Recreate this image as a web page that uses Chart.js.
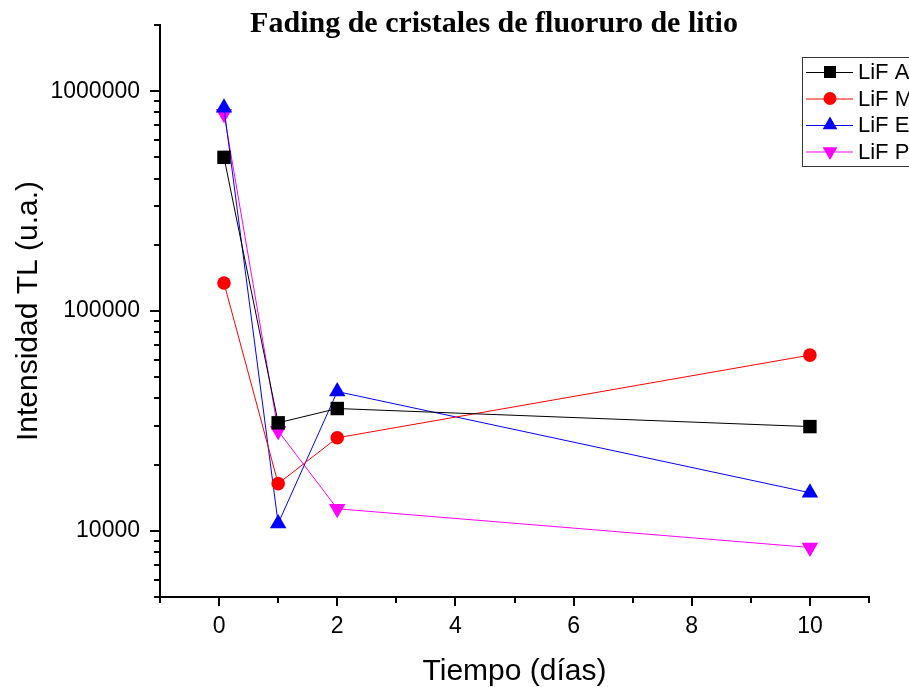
<!DOCTYPE html>
<html>
<head>
<meta charset="utf-8">
<script src="https://cdn.jsdelivr.net/npm/chart.js@4"></script>
<style>
  html,body{margin:0;padding:0;background:#fff;overflow:hidden}
  #wrap{width:909px;height:687px;position:relative}
</style>
</head>
<body>
<div id="wrap"><canvas id="c" width="909" height="687"></canvas></div>
<script>
// values
const days = [0.083, 1, 2, 10];
const lifA = [500000, 31000, 36000, 29800];
const lifM = [134000, 16400, 26500, 63000];
const lifE = [840000, 10800, 43000, 14900];
const lifP = [790000, 28500, 12600, 8400];
const seriesNames = ['LiF A', 'LiF M', 'LiF E', 'LiF P'];
const xTicks = [-1, 0, 1, 2, 3, 4, 5, 6, 7, 8, 9, 10, 11];
const yTicks = [5000, 6000, 7000, 8000, 9000,
  10000, 20000, 30000, 40000, 50000, 60000, 70000, 80000, 90000,
  100000, 200000, 300000, 400000, 500000, 600000, 700000, 800000, 900000,
  1000000, 2000000];

const pts = arr => days.map((d, i) => ({x: d, y: arr[i]}));
const styles = [
  {color: '#000000', pointStyle: 'rect', r: 9.5, lr: 8.5, rot: 0},
  {color: '#ff0000', pointStyle: 'circle', r: 6.8, lr: 6.5, rot: 0},
  {color: '#0000ff', pointStyle: 'triangle', r: 9.5, lr: 8.5, rot: 0},
  {color: '#ff00ff', pointStyle: 'triangle', r: 9.5, lr: 8.5, rot: 180}
];
const data = [lifA, lifM, lifE, lifP];

const isPow10 = v => Math.abs(Math.log10(v) - Math.round(Math.log10(v))) < 1e-9;

const axisDeco = {
  id: 'axisDeco',
  afterDraw(chart) {
    const ctx = chart.ctx, xs = chart.scales.x, ys = chart.scales.y;
    const a = chart.chartArea;
    ctx.save();
    ctx.strokeStyle = '#000';
    ctx.lineWidth = 2;
    ctx.beginPath();
    ys.ticks.forEach(t => {
      const y = Math.round(ys.getPixelForValue(t.value));
      const len = isPow10(t.value) ? 10 : 6;
      ctx.moveTo(a.left, y); ctx.lineTo(a.left - len, y);
    });
    xs.ticks.forEach(t => {
      const x = Math.round(xs.getPixelForValue(t.value));
      const len = t.value % 2 === 0 ? 9 : 6;
      ctx.moveTo(x, a.bottom); ctx.lineTo(x, a.bottom + len);
    });
    ctx.stroke();

    // title
    ctx.fillStyle = '#000';
    ctx.font = 'bold 30px "Liberation Serif", "Times New Roman", serif';
    ctx.textAlign = 'center';
    ctx.textBaseline = 'alphabetic';
    ctx.fillText('Fading de cristales de fluoruro de litio', 494, 32);

    // legend box
    const lx = 802, ly = 57, lw = 140, lh = 109;
    ctx.fillStyle = '#fff';
    ctx.fillRect(lx, ly, lw, lh);
    ctx.lineWidth = 1;
    ctx.strokeStyle = '#333';
    ctx.strokeRect(lx + 0.5, ly + 0.5, lw, lh);
    ctx.font = '22px "Liberation Sans", Arial, sans-serif';
    ctx.textAlign = 'left';
    ctx.textBaseline = 'middle';
    chart.data.datasets.forEach((ds, i) => {
      const y = ly + 15 + i * 26.5;
      const st = styles[i];
      ctx.strokeStyle = st.color;
      ctx.lineWidth = 1;
      ctx.beginPath(); ctx.moveTo(lx + 4, y + 0.5); ctx.lineTo(lx + 51, y + 0.5); ctx.stroke();
      ctx.fillStyle = st.color;
      Chart.helpers.drawPoint(ctx, {pointStyle: st.pointStyle, radius: st.lr, rotation: st.rot, borderWidth: 0}, lx + 28, y);
      ctx.fillStyle = '#000';
      ctx.fillText(ds.label, lx + 56, y + 1);
    });
    ctx.restore();
  }
};

new Chart(document.getElementById('c'), {
  type: 'line',
  data: {
    datasets: data.map((arr, i) => ({
      label: seriesNames[i],
      data: pts(arr),
      borderColor: styles[i].color,
      backgroundColor: styles[i].color,
      pointBackgroundColor: styles[i].color,
      pointBorderColor: styles[i].color,
      borderWidth: 1,
      pointBorderWidth: 0,
      pointStyle: styles[i].pointStyle,
      pointRadius: styles[i].r,
      pointRotation: styles[i].rot,
      tension: 0,
      fill: false
    }))
  },
  options: {
    responsive: false,
    animation: false,
    devicePixelRatio: 1,
    layout: {padding: {top: 25, right: 40, left: 0, bottom: 0}},
    plugins: {legend: {display: false}, title: {display: false}, tooltip: {enabled: false}},
    scales: {
      x: {
        type: 'linear', min: -1, max: 11,
        afterBuildTicks: s => { s.ticks = xTicks.map(v => ({value: v})); },
        afterFit: s => { s.height = 90; },
        grid: {color: 'rgba(0,0,0,0)', drawOnChartArea: false, drawTicks: true, tickLength: 9},
        border: {display: true, color: '#000', width: 2},
        ticks: {
          autoSkip: false, maxRotation: 0, padding: 7, color: '#000',
          font: {family: '"Liberation Sans Narrow", "Liberation Sans", Arial, sans-serif', size: 23},
          callback: v => (v % 2 === 0 && v >= 0 && v <= 10) ? String(v) : ''
        },
        title: {display: true, text: 'Tiempo (días)', color: '#000', padding: {top: 0, bottom: -3},
          font: {family: '"Liberation Sans", Arial, sans-serif', size: 30}}
      },
      y: {
        type: 'logarithmic', min: 5000, max: 2000000,
        afterBuildTicks: s => { s.ticks = yTicks.map(v => ({value: v})); },
        afterFit: s => { s.width = 160; },
        grid: {color: 'rgba(0,0,0,0)', drawOnChartArea: false, drawTicks: true, tickLength: 10},
        border: {display: true, color: '#000', width: 2},
        ticks: {
          autoSkip: false, padding: 10, color: '#000',
          font: {family: '"Liberation Sans", Arial, sans-serif', size: 23},
          callback: v => isPow10(v) ? String(v) : ''
        },
        title: {display: true, text: 'Intensidad TL (u.a.)', color: '#000', padding: {top: 11, bottom: 0},
          font: {family: '"Liberation Sans", Arial, sans-serif', size: 30}}
      }
    }
  },
  plugins: [axisDeco]
});
</script>
</body>
</html>
